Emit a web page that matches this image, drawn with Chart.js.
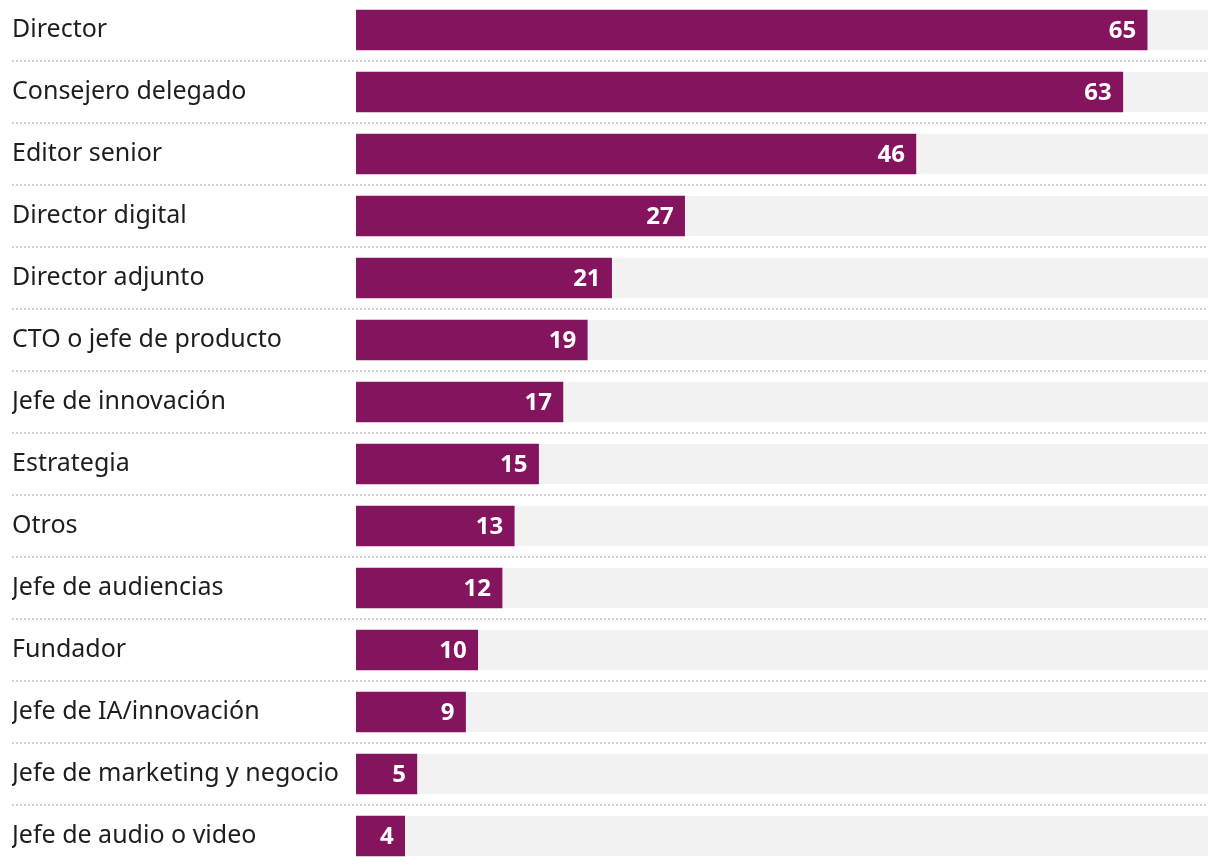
<!DOCTYPE html>
<html>
<head>
<meta charset="utf-8">
<script src="https://cdn.jsdelivr.net/npm/chart.js@4/dist/chart.umd.min.js"></script>
<style>
  html, body { margin: 0; padding: 0; background: #ffffff; overflow: hidden; }
  #wrap { position: absolute; left: 0; top: -1px; width: 1220px; height: 868px; }
</style>
</head>
<body>
<div id="wrap"><canvas id="c"></canvas></div>
<script>
const categories = [
  "Director",
  "Consejero delegado",
  "Editor senior",
  "Director digital",
  "Director adjunto",
  "CTO o jefe de producto",
  "Jefe de innovación",
  "Estrategia",
  "Otros",
  "Jefe de audiencias",
  "Fundador",
  "Jefe de IA/innovación",
  "Jefe de marketing y negocio",
  "Jefe de audio o video"
];
const values = [65, 63, 46, 27, 21, 19, 17, 15, 13, 12, 10, 9, 5, 4];
const axisMax = 70;

const FONT = "'Noto Sans', 'Open Sans', sans-serif";
const BAR_COLOR = "#84145e";
const TRACK_COLOR = "#f2f2f2";
const SEP_COLOR = "#d2d2d2";
const BAR_H = 40;

const tracksAndSeparators = {
  id: "tracksAndSeparators",
  beforeDatasetsDraw(chart) {
    const { ctx, chartArea, scales } = chart;
    const y = scales.y;
    const x = scales.x;
    ctx.save();
    ctx.fillStyle = TRACK_COLOR;
    const x0 = x.getPixelForValue(0);
    const x1 = x.getPixelForValue(axisMax);
    categories.forEach((c, i) => {
      const cy = y.getPixelForValue(i);
      ctx.fillRect(x0, cy - BAR_H / 2, x1 - x0, BAR_H);
    });
    ctx.strokeStyle = SEP_COLOR;
    ctx.lineWidth = 2;
    ctx.setLineDash([2, 2]);
    for (let i = 0; i < categories.length - 1; i++) {
      const sy = Math.round((y.getPixelForValue(i) + y.getPixelForValue(i + 1)) / 2);
      ctx.beginPath();
      ctx.moveTo(12, sy);
      ctx.lineTo(chartArea.right, sy);
      ctx.stroke();
    }
    ctx.restore();
  }
};

const valueLabels = {
  id: "valueLabels",
  afterDatasetsDraw(chart) {
    const { ctx } = chart;
    const meta = chart.getDatasetMeta(0);
    ctx.save();
    ctx.fillStyle = "#ffffff";
    ctx.font = "bold 24px " + FONT;
    ctx.textAlign = "right";
    ctx.textBaseline = "middle";
    meta.data.forEach((bar, i) => {
      ctx.fillText(String(values[i]), bar.x - 11, bar.y + 1);
    });
    ctx.restore();
  }
};

new Chart(document.getElementById("c"), {
  type: "bar",
  data: {
    labels: categories,
    datasets: [{
      data: values,
      backgroundColor: BAR_COLOR,
      borderWidth: 0,
      barThickness: BAR_H
    }]
  },
  options: {
    indexAxis: "y",
    responsive: true,
    maintainAspectRatio: false,
    animation: false,
    layout: { padding: { left: 12, right: 12, top: 0, bottom: 0 } },
    plugins: {
      legend: { display: false },
      tooltip: { enabled: false }
    },
    scales: {
      x: {
        display: false,
        min: 0,
        max: axisMax
      },
      y: {
        grid: { display: false, drawTicks: false },
        border: { display: false },
        afterFit(scale) {
          scale.width = 344;
          scale.paddingTop = 0;
          scale.paddingBottom = 0;
        },
        ticks: {
          crossAlign: "far",
          padding: 0,
          color: "#1e1e1e",
          font: { family: FONT, size: 25 }
        }
      }
    }
  },
  plugins: [tracksAndSeparators, valueLabels]
});
</script>
</body>
</html>
